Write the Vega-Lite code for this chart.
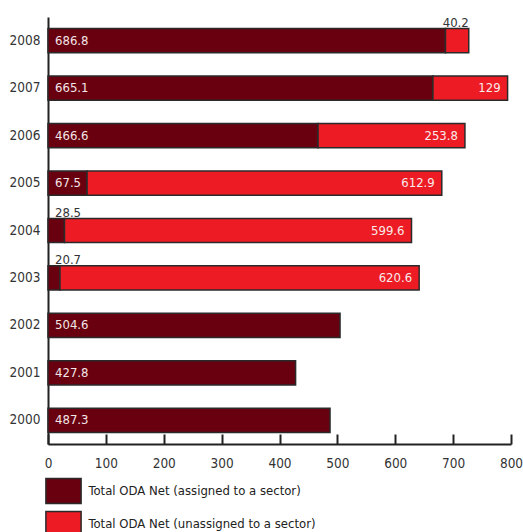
{
  "$schema": "https://vega.github.io/schema/vega-lite/v6.json",
  "autosize": "none",
  "width": 463,
  "height": 427,
  "padding": {"left": 48, "top": 17, "right": 12, "bottom": 88},
  "background": "white",
  "config": {
    "font": "DejaVu Sans Condensed, Liberation Sans Narrow, sans-serif",
    "view": {"stroke": null}
  },
  "data": {
    "values": [
      {"year": "2000", "type": "Total ODA Net (assigned to a sector)", "value": 487.3},
      {"year": "2001", "type": "Total ODA Net (assigned to a sector)", "value": 427.8},
      {"year": "2002", "type": "Total ODA Net (assigned to a sector)", "value": 504.6},
      {"year": "2003", "type": "Total ODA Net (assigned to a sector)", "value": 20.7},
      {"year": "2003", "type": "Total ODA Net (unassigned to a sector)", "value": 620.6},
      {"year": "2004", "type": "Total ODA Net (assigned to a sector)", "value": 28.5},
      {"year": "2004", "type": "Total ODA Net (unassigned to a sector)", "value": 599.6},
      {"year": "2005", "type": "Total ODA Net (assigned to a sector)", "value": 67.5},
      {"year": "2005", "type": "Total ODA Net (unassigned to a sector)", "value": 612.9},
      {"year": "2006", "type": "Total ODA Net (assigned to a sector)", "value": 466.6},
      {"year": "2006", "type": "Total ODA Net (unassigned to a sector)", "value": 253.8},
      {"year": "2007", "type": "Total ODA Net (assigned to a sector)", "value": 665.1},
      {"year": "2007", "type": "Total ODA Net (unassigned to a sector)", "value": 129},
      {"year": "2008", "type": "Total ODA Net (assigned to a sector)", "value": 686.8},
      {"year": "2008", "type": "Total ODA Net (unassigned to a sector)", "value": 40.2}
    ]
  },
  "transform": [
    {"stack": "value", "groupby": ["year"], "sort": [{"field": "type", "order": "ascending"}], "as": ["x0", "x1"]}
  ],
  "encoding": {
    "y": {
      "field": "year",
      "type": "ordinal",
      "sort": "descending",
      "title": null,
      "scale": {"paddingInner": 0.49, "paddingOuter": 0.245},
      "axis": {
        "domainColor": "#222",
        "domainWidth": 2,
        "ticks": false,
        "labelFontSize": 13.5,
        "labelColor": "#333",
        "labelPadding": 8
      }
    }
  },
  "layer": [
    {
      "mark": {"type": "bar", "stroke": "#2a2a2a", "strokeWidth": 1.5},
      "encoding": {
        "x": {
          "field": "x0",
          "type": "quantitative",
          "title": null,
          "scale": {"domain": [0, 800], "nice": false},
          "axis": {
            "values": [0, 100, 200, 300, 400, 500, 600, 700, 800],
            "grid": false,
            "domainColor": "#222",
            "domainWidth": 2,
            "tickColor": "#222",
            "tickWidth": 2,
            "tickSize": -10,
            "labelPadding": 22,
            "labelFontSize": 13.5,
            "labelColor": "#333",
            "labelFlush": false
          }
        },
        "x2": {"field": "x1"},
        "color": {
          "field": "type",
          "type": "nominal",
          "title": null,
          "scale": {
            "domain": ["Total ODA Net (assigned to a sector)", "Total ODA Net (unassigned to a sector)"],
            "range": ["#690010", "#ED1C24"]
          },
          "legend": {
            "orient": "none",
            "legendX": -1.5,
            "legendY": 457,
            "direction": "vertical",
            "symbolType": "M-1.1,-0.78L1.1,-0.78L1.1,0.78L-1.1,0.78Z",
            "symbolSize": 1024,
            "symbolStrokeColor": "#2a2a2a",
            "symbolStrokeWidth": 1.5,
            "symbolOpacity": 1,
            "rowPadding": 0,
            "labelFontSize": 13,
            "labelColor": "#222",
            "labelOffset": 8,
            "labelLimit": 400
          }
        }
      }
    },
    {
      "transform": [{"filter": "datum.value >= 50 && indexof(datum.type, 'unassigned') < 0"}],
      "mark": {"type": "text", "align": "left", "baseline": "middle", "dx": 7, "fontSize": 13, "color": "#F3E6E6"},
      "encoding": {"x": {"field": "x0", "type": "quantitative"}, "text": {"field": "value", "type": "quantitative"}}
    },
    {
      "transform": [{"filter": "datum.value >= 50 && indexof(datum.type, 'unassigned') >= 0"}],
      "mark": {"type": "text", "align": "right", "baseline": "middle", "dx": -7, "fontSize": 13, "color": "#F8EAEA"},
      "encoding": {"x": {"field": "x1", "type": "quantitative"}, "text": {"field": "value", "type": "quantitative"}}
    },
    {
      "transform": [{"filter": "datum.value < 50 && indexof(datum.type, 'unassigned') < 0"}],
      "mark": {"type": "text", "align": "left", "baseline": "bottom", "dx": 7, "dy": -11, "fontSize": 13, "color": "#333"},
      "encoding": {"x": {"field": "x0", "type": "quantitative"}, "text": {"field": "value", "type": "quantitative"}}
    },
    {
      "transform": [{"filter": "datum.value < 50 && indexof(datum.type, 'unassigned') >= 0"}],
      "mark": {"type": "text", "align": "right", "baseline": "bottom", "dx": 0, "dy": -11, "fontSize": 13, "color": "#333"},
      "encoding": {"x": {"field": "x1", "type": "quantitative"}, "text": {"field": "value", "type": "quantitative"}}
    }
  ]
}
